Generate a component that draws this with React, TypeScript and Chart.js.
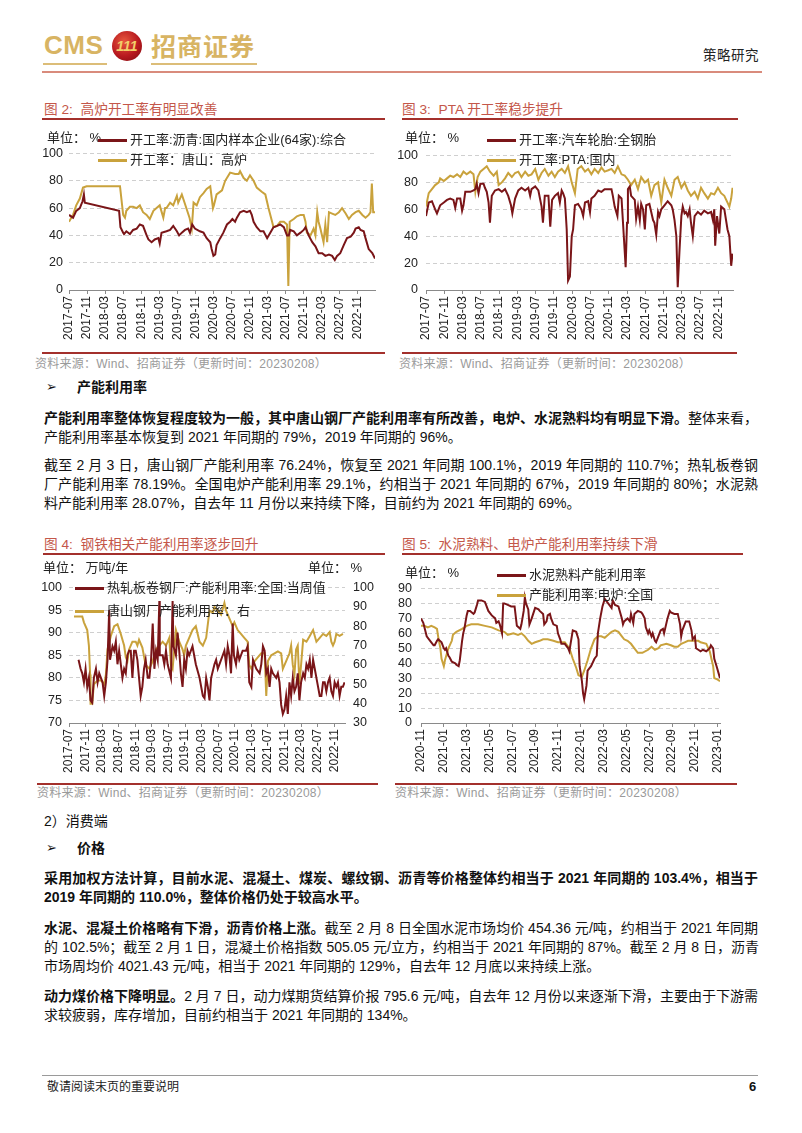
import React, { useEffect, useRef } from "react";
import { Chart, registerables } from "chart.js";

Chart.register(...registerables);

type P = [number, number];

// x = months since 2017-07 (charts 2-4) / since 2020-11 (chart 5)
const monthTicks2017 = ["2017-07", "2017-11", "2018-03", "2018-07", "2018-11", "2019-03", "2019-07", "2019-11", "2020-03", "2020-07", "2020-11", "2021-03", "2021-07", "2021-11", "2022-03", "2022-07", "2022-11"];
const monthTicks2020 = ["2020-11", "2021-01", "2021-03", "2021-05", "2021-07", "2021-09", "2021-11", "2022-01", "2022-03", "2022-05", "2022-07", "2022-09", "2022-11", "2023-01"];

const asphaltRate: P[] = [[0, 55], [0.9, 53], [1.6, 58], [2.4, 60], [3.0, 65], [3.3, 70], [3.5, 64], [11.1, 58], [11.4, 46], [12.0, 42], [12.2, 41], [12.7, 43], [13.5, 41], [14.2, 44], [15.0, 45], [15.7, 48], [16.4, 47], [17.2, 40], [17.6, 37], [18.3, 35], [19.0, 37], [19.8, 38], [20.1, 34], [20.5, 42], [21.6, 43], [22.4, 44], [23.1, 47], [23.9, 43], [24.4, 40], [25.0, 42], [25.7, 44], [26.4, 45], [26.8, 42], [27.3, 48], [27.9, 45], [29.0, 43], [29.8, 42], [30.5, 38], [31.3, 35], [31.6, 30], [32.0, 25], [32.4, 26], [32.7, 33], [33.5, 38], [34.2, 42], [35.0, 48], [35.7, 50], [36.2, 52], [36.8, 50], [37.2, 53], [37.9, 57], [38.7, 58], [39.4, 57], [40.1, 58], [40.5, 55], [40.9, 50], [41.6, 46], [42.4, 43], [43.1, 43], [43.9, 38], [44.6, 42], [45.3, 46], [46.1, 47], [46.8, 48], [47.6, 46], [48.3, 40], [48.7, 40], [49.0, 44], [49.8, 43], [50.5, 40], [51.3, 42], [52.0, 44], [52.4, 46], [53.1, 40], [53.9, 35], [54.6, 32], [55.3, 27], [56.1, 27], [56.8, 25], [57.6, 26], [58.3, 25], [58.9, 22], [59.4, 25], [60.1, 27], [60.9, 33], [61.6, 38], [62.4, 39], [63.1, 42], [63.5, 45], [64.2, 46], [64.6, 44], [65.3, 43], [65.7, 38], [66.4, 30], [67.2, 27], [67.8, 23]];

const tangshanBlastFurnace: P[] = [[0, 50], [0.9, 55], [1.6, 62], [2.4, 67], [3.1, 75], [3.9, 76], [11.3, 76], [12.0, 55], [12.4, 53], [12.7, 58], [13.5, 61], [14.2, 61], [15.0, 60], [15.7, 62], [16.4, 57], [17.2, 55], [17.9, 52], [18.7, 58], [19.4, 60], [20.1, 62], [20.9, 53], [21.3, 60], [21.6, 60], [22.4, 64], [23.1, 62], [23.9, 69], [24.2, 64], [25.0, 70], [25.7, 63], [26.7, 53], [27.2, 45], [27.6, 64], [28.3, 62], [29.0, 68], [29.8, 71], [30.5, 74], [31.3, 76], [31.9, 60], [32.1, 62], [32.7, 70], [33.9, 73], [34.6, 80], [35.7, 86], [36.8, 85], [37.6, 85], [37.9, 87], [38.7, 82], [39.4, 80], [40.1, 84], [40.9, 80], [41.6, 75], [42.7, 72], [43.5, 70], [44.2, 60], [45.0, 50], [45.3, 46], [46.1, 47], [46.8, 50], [47.6, 50], [48.3, 48], [48.6, 3], [48.9, 50], [49.8, 52], [50.5, 54], [51.3, 55], [52.0, 55], [52.4, 50], [52.7, 42], [53.5, 40], [54.2, 45], [54.6, 40], [55.0, 57], [55.3, 50], [55.7, 45], [56.4, 35], [56.8, 48], [57.2, 35], [57.6, 57], [58.3, 56], [59.0, 55], [59.8, 57], [60.5, 60], [61.3, 56], [62.0, 52], [62.7, 55], [63.5, 57], [64.2, 58], [65.0, 55], [65.7, 53], [66.4, 55], [66.8, 57], [67.1, 78], [67.4, 57], [67.8, 57]];

const tireSteelRate: P[] = [[0, 55], [0.6, 65], [1.3, 66], [2.0, 60], [2.4, 57], [3.1, 63], [3.9, 65], [4.6, 67], [5.3, 68], [6.0, 67], [6.4, 61], [6.8, 68], [7.5, 68], [7.9, 59], [8.2, 63], [8.6, 73], [9.7, 73], [10.4, 74], [10.8, 75], [11.1, 79], [11.5, 72], [11.9, 79], [12.6, 79], [12.9, 76], [13.3, 73], [13.7, 65], [14.0, 50], [14.4, 70], [15.1, 74], [15.9, 75], [16.6, 73], [17.3, 75], [18.0, 70], [18.6, 63], [18.9, 57], [19.5, 68], [20.2, 74], [20.9, 76], [21.7, 74], [22.4, 76], [22.8, 70], [23.1, 75], [23.9, 77], [24.6, 74], [25.3, 62], [25.6, 50], [26.0, 70], [26.8, 70], [27.2, 47], [27.6, 67], [28.2, 70], [28.9, 72], [29.3, 65], [29.7, 74], [30.0, 72], [30.4, 68], [30.8, 45], [31.1, 7], [31.5, 10], [31.9, 40], [32.2, 45], [32.6, 63], [33.3, 64], [34.0, 60], [34.4, 55], [34.8, 65], [35.5, 66], [35.9, 58], [36.2, 68], [36.9, 70], [37.7, 74], [38.4, 73], [39.1, 75], [39.9, 75], [40.6, 75], [40.9, 70], [41.3, 62], [41.9, 55], [42.2, 70], [42.8, 68], [43.3, 40], [43.7, 17], [44.0, 50], [44.2, 75], [44.6, 77], [44.9, 70], [45.7, 67], [46.0, 53], [46.4, 62], [46.8, 52], [47.1, 64], [47.5, 60], [47.9, 45], [48.2, 63], [48.9, 64], [49.3, 58], [49.7, 52], [50.0, 50], [50.4, 41], [50.8, 58], [51.1, 55], [51.5, 60], [52.2, 63], [52.9, 66], [53.7, 63], [54.0, 60], [54.4, 52], [54.8, 40], [55.1, 2], [55.5, 30], [55.9, 55], [56.2, 62], [56.6, 57], [56.9, 58], [57.3, 55], [57.7, 60], [58.0, 50], [58.4, 40], [58.8, 55], [59.5, 58], [60.2, 56], [60.9, 59], [61.7, 57], [62.4, 58], [62.8, 52], [63.1, 60], [63.3, 33], [63.7, 55], [64.2, 42], [64.6, 62], [65.3, 60], [66.0, 45], [66.4, 40], [66.8, 18], [67.1, 27]];

const ptaRate: P[] = [[0, 62], [0.6, 72], [1.3, 75], [2.0, 78], [2.8, 80], [3.1, 83], [3.9, 81], [4.6, 83], [5.3, 85], [6.0, 84], [6.8, 86], [7.5, 84], [8.2, 88], [8.9, 86], [9.7, 88], [10.4, 86], [10.8, 73], [11.3, 84], [11.9, 88], [12.6, 90], [13.3, 92], [14.0, 88], [14.8, 85], [15.5, 88], [15.9, 78], [16.6, 80], [17.3, 83], [18.0, 87], [18.8, 84], [19.5, 87], [20.2, 88], [20.9, 84], [21.7, 88], [22.4, 85], [23.1, 86], [23.9, 90], [24.6, 82], [25.3, 87], [26.0, 90], [26.8, 85], [27.5, 88], [28.2, 84], [28.9, 88], [29.7, 90], [30.4, 87], [31.1, 92], [31.9, 80], [32.6, 72], [33.2, 90], [34.0, 92], [34.8, 88], [35.5, 90], [36.2, 86], [36.9, 90], [37.7, 87], [38.4, 91], [39.1, 88], [39.9, 89], [40.6, 90], [41.3, 87], [42.0, 92], [42.8, 86], [43.5, 85], [44.2, 82], [44.9, 78], [45.7, 82], [46.4, 75], [47.1, 84], [47.9, 80], [48.6, 82], [49.3, 70], [50.0, 78], [50.8, 80], [51.5, 65], [52.2, 82], [52.9, 76], [53.7, 70], [54.4, 82], [55.1, 84], [55.9, 76], [56.6, 80], [57.3, 74], [58.0, 70], [58.8, 73], [59.5, 68], [60.2, 76], [60.9, 72], [61.7, 68], [62.4, 72], [63.1, 71], [63.9, 76], [64.6, 72], [65.3, 70], [66.0, 65], [66.4, 62], [66.8, 68], [67.1, 76]];

const hotRolledRate: P[] = [[2.3, 84], [2.8, 82], [3.2, 81], [3.6, 79], [4.0, 82], [4.4, 78], [4.8, 80], [5.2, 75], [5.6, 74.5], [6.0, 80], [6.5, 82], [6.9, 79], [7.3, 81], [7.7, 80], [8.1, 79], [8.5, 76], [8.9, 79], [9.3, 84], [9.7, 95], [9.9, 84], [10.5, 87], [10.9, 86], [11.3, 88], [11.7, 83], [12.1, 86], [12.9, 80], [13.3, 82], [13.7, 81], [14.1, 85], [14.5, 86], [14.9, 86], [15.3, 80], [15.7, 86], [16.1, 86], [16.5, 84], [16.9, 80], [17.3, 76], [17.7, 78], [18.1, 82], [18.5, 84], [19.0, 80], [19.4, 80], [19.8, 84], [20.2, 92], [20.6, 82], [21.0, 86], [21.4, 84], [21.8, 97], [21.9, 85], [22.6, 85], [23.0, 83], [23.4, 86], [23.8, 83], [24.6, 80], [25.0, 97], [25.2, 87], [25.8, 85], [26.2, 90], [26.6, 86], [27.0, 81], [27.4, 78], [27.8, 84], [28.2, 82], [28.6, 86], [29.0, 85], [29.8, 87], [30.2, 85], [30.6, 83], [31.5, 80], [32.3, 76], [32.7, 75.5], [33.1, 80], [33.5, 78], [33.9, 75], [34.3, 80], [35.1, 83], [35.5, 84], [35.9, 82], [36.3, 83], [37.1, 85], [37.5, 86], [37.9, 83], [38.3, 87], [38.7, 85], [39.1, 81], [39.5, 92], [39.8, 85], [40.3, 83], [40.7, 86], [41.1, 84], [41.9, 86], [42.7, 86], [43.1, 87], [43.5, 79], [44.0, 78], [44.4, 84], [44.8, 83], [45.2, 82], [46.0, 81], [46.4, 83], [46.8, 87], [47.2, 86], [47.6, 81], [48.0, 82], [48.4, 78], [48.8, 82], [49.2, 81], [50.0, 80], [50.4, 81], [50.8, 79], [51.2, 74], [51.6, 72], [52.0, 73], [52.4, 76], [52.8, 72], [53.2, 79], [53.6, 76], [54.0, 80], [54.4, 77], [54.8, 78], [55.2, 81], [55.6, 75], [56.0, 79], [56.5, 81], [56.9, 80], [57.3, 83], [57.7, 82], [58.1, 84], [58.5, 80], [58.9, 84], [59.3, 82], [59.7, 80], [60.1, 78], [60.5, 76], [60.9, 76], [61.3, 79], [61.7, 79], [62.1, 77], [62.5, 79], [62.9, 80], [63.3, 77], [63.7, 76], [64.1, 79], [64.5, 78], [64.9, 79], [65.3, 76], [65.7, 78], [66.1, 78], [66.5, 79]];

const tangshanMillRate: P[] = [[1.2, 85], [3.2, 85], [3.6, 82], [4.4, 78], [4.8, 70], [5.1, 55], [5.2, 40], [5.6, 40], [6.0, 50], [6.9, 52], [7.7, 52], [8.5, 50], [8.9, 55], [9.3, 68], [10.1, 75], [10.9, 80], [11.7, 81], [12.5, 76], [13.3, 70], [13.7, 64], [14.1, 62], [14.5, 68], [15.3, 72], [16.1, 72], [16.5, 70], [16.9, 73], [17.7, 69], [18.5, 60], [19.4, 58], [20.2, 62], [21.0, 68], [21.8, 70], [22.6, 72], [23.4, 70], [24.2, 74], [24.6, 60], [25.0, 58], [25.8, 78], [26.6, 72], [27.4, 68], [27.8, 65], [28.2, 70], [29.0, 74], [29.8, 78], [30.6, 80], [31.5, 72], [32.3, 70], [33.1, 74], [33.9, 88], [34.7, 87], [35.1, 90], [35.9, 88], [36.7, 86], [37.5, 92], [37.9, 88], [38.7, 84], [39.5, 80], [39.9, 82], [40.7, 78], [41.5, 76], [42.3, 74], [43.1, 72], [43.5, 60], [44.0, 58], [44.8, 62], [45.6, 64], [46.4, 66], [47.2, 66], [47.6, 44], [48.0, 62], [48.8, 65], [49.6, 66], [50.4, 67], [51.2, 66], [51.6, 58], [52.4, 62], [53.2, 66], [53.6, 70], [54.0, 60], [54.4, 55], [54.8, 68], [55.2, 70], [55.6, 50], [56.0, 60], [56.5, 73], [57.3, 72], [58.1, 75], [58.9, 78], [59.7, 72], [60.5, 74], [61.3, 76], [62.1, 75], [62.9, 77], [63.3, 72], [63.7, 70], [64.1, 72], [64.5, 76], [65.3, 75], [66.1, 76]];

const cementClinkerRate: P[] = [[0, 70], [0.2, 67], [0.5, 58], [0.8, 55], [1.1, 52], [1.2, 52], [1.4, 55], [1.5, 56], [1.8, 54], [2.0, 50], [2.1, 49], [2.2, 50], [2.4, 45], [2.5, 44], [2.7, 41], [3.0, 40], [3.1, 39], [3.3, 38], [3.4, 42], [3.6, 55], [3.7, 60], [3.8, 63], [4.0, 72], [4.1, 75], [4.3, 75], [4.6, 73], [4.7, 74], [4.9, 79], [5.0, 82], [5.3, 82], [5.6, 81], [5.7, 79], [5.9, 75], [6.2, 72], [6.5, 70], [6.6, 67], [6.8, 68], [6.9, 66], [7.1, 60], [7.2, 80], [7.3, 80], [7.6, 79], [7.9, 78], [8.2, 78], [8.4, 65], [8.7, 63], [8.8, 66], [9.0, 75], [9.1, 84], [9.2, 80], [9.4, 76], [9.5, 66], [9.7, 70], [10.0, 77], [10.3, 76], [10.4, 75], [10.7, 73], [10.8, 66], [11.0, 68], [11.1, 72], [11.3, 73], [11.4, 70], [11.6, 66], [11.9, 65], [12.0, 60], [12.2, 56], [12.3, 53], [12.6, 53], [12.7, 52], [12.9, 50], [13.0, 48], [13.3, 62], [13.6, 61], [13.8, 56], [13.9, 38], [14.1, 28], [14.2, 20], [14.3, 16], [14.5, 25], [14.6, 35], [14.9, 38], [15.2, 43], [15.4, 45], [15.5, 60], [15.7, 70], [15.9, 78], [16.1, 83], [16.4, 80], [16.7, 77], [16.8, 82], [17.0, 79], [17.3, 78], [17.6, 70], [17.7, 66], [17.8, 68], [18.1, 70], [18.3, 68], [18.4, 73], [18.6, 67], [18.7, 73], [19.0, 75], [19.3, 74], [19.4, 73], [19.6, 70], [19.7, 64], [19.9, 60], [20.0, 62], [20.2, 58], [20.3, 60], [20.5, 55], [20.6, 54], [20.9, 60], [21.0, 62], [21.2, 63], [21.3, 60], [21.6, 70], [21.8, 75], [21.9, 74], [22.2, 73], [22.5, 73], [22.7, 66], [22.8, 58], [22.9, 62], [23.1, 66], [23.2, 68], [23.5, 68], [23.7, 62], [23.8, 56], [24.0, 58], [24.1, 50], [24.3, 49], [24.5, 48], [24.7, 49], [25.0, 48], [25.3, 50], [25.4, 52], [25.6, 50], [25.7, 43], [25.9, 38], [26.2, 30]];

const electricFurnaceRate: P[] = [[0, 65], [0.3, 65], [0.6, 64], [0.9, 65], [1.2, 64], [1.4, 63], [1.5, 58], [1.7, 50], [1.8, 43], [2.0, 38], [2.1, 42], [2.4, 50], [2.7, 55], [2.8, 59], [3.1, 61], [3.6, 63], [4.0, 65], [4.4, 66], [5.0, 66], [5.6, 65], [6.2, 64], [6.8, 62], [7.3, 61], [7.6, 59], [8.1, 60], [8.5, 59], [8.8, 60], [9.1, 58], [9.4, 55], [9.7, 53], [10.0, 54], [10.4, 55], [10.7, 56], [11.1, 56], [11.6, 55], [12.0, 54], [12.6, 54], [13.0, 50], [13.3, 43], [13.6, 37], [13.8, 32], [14.1, 31], [14.3, 35], [14.6, 42], [14.9, 50], [15.2, 56], [15.5, 58], [15.8, 58], [16.1, 57], [16.4, 59], [16.7, 61], [17.0, 62], [17.3, 61], [17.6, 58], [17.8, 56], [18.1, 55], [18.4, 53], [18.7, 50], [19.0, 47], [19.4, 47], [19.9, 49], [20.2, 51], [20.5, 49], [20.8, 50], [21.0, 52], [21.5, 53], [21.9, 52], [22.2, 51], [22.5, 51], [22.8, 53], [23.1, 54], [23.4, 55], [24.0, 55], [24.3, 55], [24.5, 54], [25.0, 53], [25.3, 48], [25.6, 38], [25.7, 30], [26.0, 29], [26.2, 28]];

const MAROON = "#7a1518";
const GOLD = "#c9a23c";
const TITLE_RED = "#c4574a";
const RULE_RED = "#a3302c";
const SANS = '"Liberation Sans", Arial, sans-serif';
const CJK = '"Liberation Sans", "Noto Sans CJK SC", sans-serif';

type Series = { data: P[]; color: string; axis?: string };
type Cfg = {
  left: number; top: number; width: number; height: number;
  yWidth: number; padRight: number; xMax: number; xStep: number; ticks: string[];
  series: Series[];
  y: { min: number; max: number; step: number; pad: number };
  y2?: { min: number; max: number; step: number; width: number; pad: number };
};

function LineChart({ cfg }: { cfg: Cfg }) {
  const ref = useRef<HTMLCanvasElement>(null);
  useEffect(() => {
    const scales: any = {
      x: {
        type: "linear",
        min: 0,
        max: cfg.xMax,
        afterFit: (s: any) => { s.height = 60; },
        border: { display: true, color: "#8a8a8a", width: 1 },
        grid: { display: true, drawOnChartArea: false, drawTicks: true, tickLength: 4, color: "#8a8a8a" },
        ticks: {
          stepSize: cfg.xStep,
          autoSkip: false,
          includeBounds: false,
          minRotation: 90,
          maxRotation: 90,
          padding: 2,
          color: "#222",
          font: { family: SANS, size: 12 },
          callback: (v: number) => cfg.ticks[Math.round(v / cfg.xStep)] ?? "",
        },
      },
      y: {
        position: "left",
        min: cfg.y.min,
        max: cfg.y.max,
        afterFit: (s: any) => { s.width = cfg.yWidth; },
        border: { display: false, dash: [4, 3] },
        grid: { color: "#cfcfcf", lineWidth: 1, drawTicks: false },
        ticks: { stepSize: cfg.y.step, autoSkip: false, padding: cfg.y.pad, color: "#222", font: { family: SANS, size: 12.5 } },
      },
    };
    if (cfg.y2) {
      scales.y2 = {
        position: "right",
        min: cfg.y2.min,
        max: cfg.y2.max,
        afterFit: (s: any) => { s.width = cfg.y2!.width; },
        border: { display: false },
        grid: { drawOnChartArea: false, drawTicks: false },
        ticks: { stepSize: cfg.y2.step, autoSkip: false, padding: cfg.y2.pad, color: "#222", font: { family: SANS, size: 12.5 } },
      };
    }
    const chart = new Chart(ref.current!, {
      type: "line",
      data: {
        datasets: cfg.series.map((s) => ({
          data: s.data.map(([x, y]) => ({ x, y })),
          borderColor: s.color,
          backgroundColor: s.color,
          borderWidth: 2,
          pointRadius: 0,
          tension: 0,
          yAxisID: s.axis ?? "y",
        })),
      },
      options: {
        animation: false,
        responsive: false,
        maintainAspectRatio: false,
        layout: { padding: { top: 10, right: cfg.padRight, left: 0, bottom: 0 } },
        plugins: { legend: { display: false }, tooltip: { enabled: false } },
        scales,
      },
    } as any);
    return () => chart.destroy();
  }, []);
  return (
    <canvas
      ref={ref}
      width={cfg.width}
      height={cfg.height}
      style={{ position: "absolute", left: cfg.left, top: cfg.top, width: cfg.width, height: cfg.height }}
    />
  );
}

const abs = (left: number, cy: number, size: number, extra: React.CSSProperties = {}): React.CSSProperties => ({
  position: "absolute",
  left,
  top: cy - Math.round(size * 0.7),
  fontSize: size,
  lineHeight: `${Math.round(size * 1.4)}px`,
  whiteSpace: "nowrap",
  fontFamily: CJK,
  ...extra,
});

function Rule({ x1, x2, y, color, w = 2 }: { x1: number; x2: number; y: number; color: string; w?: number }) {
  return <div style={{ position: "absolute", left: x1, top: y - w / 2, width: x2 - x1, height: w, background: color }} />;
}

function LegendItem({ x, y, color, text }: { x: number; y: number; color: string; text: string }) {
  return (
    <>
      <div style={{ position: "absolute", left: x, top: y - 1.5, width: 29, height: 3, background: color }} />
      <div style={abs(x + 32, y, 13, { color: "#222" })}>{text}</div>
    </>
  );
}

function BodyLine({ cy, full = true, children }: { cy: number; full?: boolean; children: React.ReactNode }) {
  return (
    <div
      style={{
        position: "absolute",
        left: 44,
        width: 714,
        top: cy - 10,
        height: 20,
        lineHeight: "20px",
        fontSize: 14,
        fontFamily: CJK,
        color: "#111",
        whiteSpace: "nowrap",
        textAlign: "justify",
        textAlignLast: full ? "justify" : "left",
      } as React.CSSProperties}
    >
      {children}
    </div>
  );
}

const B = ({ children }: { children: React.ReactNode }) => <b style={{ fontWeight: 700 }}>{children}</b>;

const chart2: Cfg = {
  left: 30, top: 140, width: 355, height: 210, yWidth: 39, padRight: 10, xMax: 67.8, xStep: 4, ticks: monthTicks2017,
  series: [{ data: asphaltRate, color: MAROON }, { data: tangshanBlastFurnace, color: GOLD }],
  y: { min: 0, max: 100, step: 20, pad: 6 },
};
const chart3: Cfg = {
  left: 395, top: 140, width: 345, height: 210, yWidth: 31, padRight: 7, xMax: 67.2, xStep: 4, ticks: monthTicks2017,
  series: [{ data: tireSteelRate, color: MAROON }, { data: ptaRate, color: GOLD }],
  y: { min: 0, max: 100, step: 20, pad: 8 },
};
const chart4: Cfg = {
  left: 30, top: 572, width: 350, height: 211, yWidth: 39, padRight: 0, xMax: 66.6, xStep: 4, ticks: monthTicks2017,
  series: [{ data: hotRolledRate, color: MAROON }, { data: tangshanMillRate, color: GOLD, axis: "y2" }],
  y: { min: 70, max: 100, step: 5, pad: 7 },
  y2: { min: 30, max: 100, step: 10, width: 35, pad: 8 },
};
const chart5: Cfg = {
  left: 395, top: 572, width: 340, height: 211, yWidth: 26, padRight: 15, xMax: 26.2, xStep: 2, ticks: monthTicks2020,
  series: [{ data: cementClinkerRate, color: MAROON }, { data: electricFurnaceRate, color: GOLD }],
  y: { min: 0, max: 90, step: 10, pad: 9 },
};

const sourceText = "资料来源：Wind、招商证券（更新时间：20230208）";

export default function App() {
  const titleStyle = { color: TITLE_RED };
  const srcStyle = { color: "#9a9a9a", letterSpacing: "0.25px" };
  return (
    <div style={{ position: "absolute", left: 0, top: 0, width: 802, height: 1133, background: "#fff", overflow: "hidden" }}>
      {/* header */}
      <div style={{ position: "absolute", left: 44, top: 30, fontFamily: SANS, fontWeight: 700, fontSize: 26, color: "#d8b463", lineHeight: "30px", letterSpacing: "0.5px" }}>CMS</div>
      <div
        style={{
          position: "absolute", left: 112, top: 31, width: 30, height: 30, borderRadius: "50%",
          background: "radial-gradient(circle at 40% 35%, #e8583e 0%, #b8191f 55%, #7a0c10 100%)",
          color: "#f2cf6a", fontFamily: SANS, fontWeight: 700, fontStyle: "italic", fontSize: 14,
          textAlign: "center", lineHeight: "30px",
        }}
      >
        111
      </div>
      <div style={{ position: "absolute", left: 151, top: 29, fontFamily: '"Noto Sans CJK SC", sans-serif', fontWeight: 700, fontSize: 25, color: "#d8b463", lineHeight: "32px", letterSpacing: "1px" }}>招商证券</div>
      <Rule x1={43} x2={107} y={64} color="#dcbd78" w={2} />
      <Rule x1={151} x2={257} y={64} color="#dcbd78" w={2} />
      <div style={abs(703, 55, 13.5, { color: "#222", letterSpacing: "0.5px" })}>策略研究</div>
      <Rule x1={42} x2={762} y={72} color="#d98b7c" w={1.5} />

      {/* figure 2 & 3 */}
      <div style={abs(44, 110, 13.7, titleStyle)}>图 2:&nbsp; 高炉开工率有明显改善</div>
      <Rule x1={42} x2={385} y={119} color={RULE_RED} />
      <div style={abs(402, 110, 13.7, titleStyle)}>图 3:&nbsp; PTA 开工率稳步提升</div>
      <Rule x1={402} x2={738} y={119} color={RULE_RED} />

      <LineChart cfg={chart2} />
      <LineChart cfg={chart3} />
      <div style={abs(47, 138, 13, { color: "#222" })}>单位：&nbsp;%</div>
      <LegendItem x={98} y={140} color={MAROON} text="开工率:沥青:国内样本企业(64家):综合" />
      <LegendItem x={98} y={160} color={GOLD} text="开工率：唐山：高炉" />
      <div style={abs(405, 138, 13, { color: "#222" })}>单位：&nbsp;%</div>
      <LegendItem x={487} y={140} color={MAROON} text="开工率:汽车轮胎:全钢胎" />
      <LegendItem x={487} y={160} color={GOLD} text="开工率:PTA:国内" />

      <Rule x1={42} x2={385} y={353} color={RULE_RED} />
      <Rule x1={402} x2={737} y={353} color={RULE_RED} />
      <div style={abs(35, 364, 12, srcStyle)}>{sourceText}</div>
      <div style={abs(399, 364, 12, srcStyle)}>{sourceText}</div>

      {/* section text */}
      <div style={abs(46, 387, 13, { fontFamily: '"DejaVu Sans", sans-serif', color: "#111" })}>➢</div>
      <div style={abs(77, 387, 14, { fontWeight: 700, color: "#111" })}>产能利用率</div>

      <BodyLine cy={418}><B>产能利用率整体恢复程度较为一般，其中唐山钢厂产能利用率有所改善，电炉、水泥熟料均有明显下滑。</B>整体来看，</BodyLine>
      <BodyLine cy={437} full={false}>产能利用率基本恢复到 2021 年同期的 79%，2019 年同期的 96%。</BodyLine>

      <BodyLine cy={465}>截至 2 月 3 日，唐山钢厂产能利用率 76.24%，恢复至 2021 年同期 100.1%，2019 年同期的 110.7%；热轧板卷钢</BodyLine>
      <BodyLine cy={484}>厂产能利用率 78.19%。全国电炉产能利用率 29.1%，约相当于 2021 年同期的 67%，2019 年同期的 80%；水泥熟</BodyLine>
      <BodyLine cy={503} full={false}>料产能利用率 28.07%，自去年 11 月份以来持续下降，目前约为 2021 年同期的 69%。</BodyLine>

      {/* figure 4 & 5 */}
      <div style={abs(44, 545, 13.7, titleStyle)}>图 4:&nbsp; 钢铁相关产能利用率逐步回升</div>
      <Rule x1={43} x2={385} y={554} color={RULE_RED} />
      <div style={abs(402, 545, 13.7, titleStyle)}>图 5:&nbsp; 水泥熟料、电炉产能利用率持续下滑</div>
      <Rule x1={402} x2={743} y={554} color={RULE_RED} />

      <LineChart cfg={chart4} />
      <LineChart cfg={chart5} />
      <div style={abs(43, 568, 13, { color: "#222" })}>单位：&nbsp;万吨/年</div>
      <div style={abs(308, 568, 13, { color: "#222" })}>单位：&nbsp;%</div>
      <LegendItem x={75} y={588} color={MAROON} text="热轧板卷钢厂:产能利用率:全国:当周值" />
      <LegendItem x={75} y={611} color={GOLD} text="唐山钢厂产能利用率：右" />
      <div style={abs(405, 573, 13, { color: "#222" })}>单位：&nbsp;%</div>
      <LegendItem x={497} y={575} color={MAROON} text="水泥熟料产能利用率" />
      <LegendItem x={497} y={595} color={GOLD} text="产能利用率:电炉:全国" />

      <Rule x1={37} x2={378} y={784} color={RULE_RED} />
      <Rule x1={395} x2={737} y={784} color={RULE_RED} />
      <div style={abs(37, 793, 12, srcStyle)}>{sourceText}</div>
      <div style={abs(395, 793, 12, srcStyle)}>{sourceText}</div>

      {/* consumption */}
      <div style={abs(44, 821, 14, { color: "#111" })}>2）消费端</div>
      <div style={abs(46, 848, 13, { fontFamily: '"DejaVu Sans", sans-serif', color: "#111" })}>➢</div>
      <div style={abs(77, 848, 14, { fontWeight: 700, color: "#111" })}>价格</div>

      <BodyLine cy={878}><B>采用加权方法计算，目前水泥、混凝土、煤炭、螺纹钢、沥青等价格整体约相当于 2021 年同期的 103.4%，相当于</B></BodyLine>
      <BodyLine cy={897} full={false}><B>2019 年同期的 110.0%，整体价格仍处于较高水平。</B></BodyLine>

      <BodyLine cy={928}><B>水泥、混凝土价格略有下滑，沥青价格上涨。</B>截至 2 月 8 日全国水泥市场均价 454.36 元/吨，约相当于 2021 年同期</BodyLine>
      <BodyLine cy={947}>的 102.5%；截至 2 月 1 日，混凝土价格指数 505.05 元/立方，约相当于 2021 年同期的 87%。截至 2 月 8 日，沥青</BodyLine>
      <BodyLine cy={966} full={false}>市场周均价 4021.43 元/吨，相当于 2021 年同期的 129%，自去年 12 月底以来持续上涨。</BodyLine>

      <BodyLine cy={996}><B>动力煤价格下降明显。</B>2 月 7 日，动力煤期货结算价报 795.6 元/吨，自去年 12 月份以来逐渐下滑，主要由于下游需</BodyLine>
      <BodyLine cy={1015} full={false}>求较疲弱，库存增加，目前约相当于 2021 年同期的 134%。</BodyLine>

      {/* footer */}
      <Rule x1={42} x2={758} y={1075} color="#9a9a9a" w={1} />
      <div style={abs(47, 1087, 12, { color: "#222" })}>敬请阅读末页的重要说明</div>
      <div style={abs(749, 1087, 13, { fontFamily: SANS, fontWeight: 700, color: "#111" })}>6</div>
    </div>
  );
}
